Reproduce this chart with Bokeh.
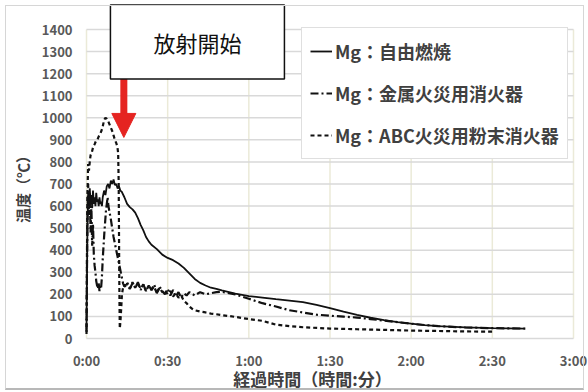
import math
from bokeh.plotting import figure
from bokeh.models import (Range1d, Label, Arrow, NormalHead, Legend, LegendItem, InlineStyleSheet)
from bokeh.core.properties import value
from bokeh.embed import file_html
from bokeh.resources import INLINE

# ---------------- data (time in seconds, temperature in deg C) ----------------
x_ticks = [0, 30, 60, 90, 120, 150, 180]
x_tick_labels = ["0:00", "0:30", "1:00", "1:30", "2:00", "2:30", "3:00"]
y_ticks = [0, 100, 200, 300, 400, 500, 600, 700, 800, 900, 1000, 1100, 1200, 1300, 1400]
y_tick_labels = [str(v) for v in y_ticks]

x_title = "経過時間（時間:分）"
y_title = "温度（℃）"
series_labels = ["Mg：自由燃焼", "Mg：金属火災用消火器", "Mg：ABC火災用粉末消火器"]

free_t = [0, 0.3, 0.6, 0.9, 1.2, 1.5, 1.8, 2.1, 2.4, 2.7,
          3.0, 3.3, 3.6, 3.9, 4.2, 4.5, 4.8, 5.1, 5.4, 5.7,
          6.0, 6.5, 7.0, 7.5, 8.0, 8.5, 9.0, 9.5, 10.0, 10.5,
          11.0, 11.5, 12.0, 12.5, 13.0, 14, 15, 16, 17, 18,
          19, 20, 21, 22, 23, 24, 26, 28, 30, 32,
          34, 36, 38, 40, 42, 44, 46, 48, 50, 55,
          60, 65, 70, 75, 80, 85, 90, 95, 100, 105,
          110, 115, 120, 125, 130, 140, 150, 162]
free_T = [40, 450, 660, 600, 680, 620, 650, 590, 670, 610,
          640, 600, 660, 620, 630, 600, 640, 610, 620, 600,
          640, 670, 650, 690, 700, 680, 715, 700, 720, 695,
          700, 680, 690, 670, 665, 640, 610, 595, 585, 570,
          545, 515, 490, 460, 440, 425, 405, 380, 365, 355,
          340, 320, 295, 270, 252, 240, 230, 225, 218, 203,
          192, 185, 178, 172, 165, 152, 138, 122, 107, 94,
          83, 74, 67, 61, 56, 50, 47, 45]

metal_t = [0, 0.3, 0.6, 0.9, 1.2, 1.5, 1.8, 2.1, 2.4, 2.7,
           3.0, 3.3, 3.6, 3.9, 4.2, 4.5, 4.8, 5.1, 5.4, 5.7,
           6.0, 6.3, 6.6, 6.9, 7.2, 7.5, 7.8, 8.1, 8.4, 8.7,
           9.0, 9.5, 10.0, 10.5, 11.0, 11.5, 12.0, 12.5, 13.0, 13.5,
           14, 15, 16, 17, 18, 19, 20, 21, 22, 23,
           24, 25, 26, 27, 28, 29, 30, 31, 32, 33,
           34, 35, 36, 37, 38, 40, 42, 44, 46, 48,
           50, 55, 60, 65, 70, 75, 80, 85, 90, 95,
           100, 105, 110, 115, 120, 125, 130, 140, 150, 163]
metal_T = [30, 520, 700, 560, 660, 480, 600, 420, 520, 380,
           330, 300, 260, 240, 225, 250, 215, 240, 230, 280,
           360, 420, 480, 530, 580, 610, 640, 600, 580, 560,
           540, 500, 460, 430, 400, 370, 340, 310, 280, 250,
           235, 255, 225, 250, 230, 255, 220, 245, 215, 240,
           220, 245, 205, 235, 215, 200, 225, 195, 220, 190,
           210, 185, 205, 195, 210, 195, 210, 200, 205, 210,
           212, 200, 180, 160, 145, 128, 118, 108, 103, 99,
           95, 88, 81, 74, 67, 61, 56, 50, 47, 45]

abc_t = [0, 0.3, 0.6, 0.9, 1.2, 1.5, 2.0, 2.5, 3.0, 3.5,
         4.0, 4.5, 5.0, 5.5, 6.0, 6.5, 7.0, 7.5, 8.0, 8.5,
         9.0, 9.5, 10.0, 10.5, 11.0, 11.4, 11.7, 11.9, 12.0, 12.1,
         12.2, 12.3, 12.5, 12.8, 13.1, 13.5, 14.0, 14.5, 15, 16,
         17, 18, 19, 20, 21, 22, 23, 24, 25, 26,
         27, 28, 29, 30, 31, 32, 33, 34, 35, 36,
         37, 38, 39, 40, 42, 44, 46, 48, 50, 55,
         60, 65, 70, 75, 80, 90, 100, 110, 120, 130,
         140, 151]
abc_T = [20, 620, 790, 760, 800, 830, 845, 870, 880, 895,
         900, 915, 925, 940, 960, 990, 1000, 995, 985, 970,
         955, 940, 920, 900, 885, 870, 840, 700, 500, 300,
         150, 45, 70, 130, 200, 230, 245, 230, 250, 225,
         255, 230, 250, 225, 245, 215, 240, 220, 235, 205,
         230, 210, 220, 200, 215, 190, 205, 185, 195, 170,
         160, 145, 135, 128, 122, 118, 113, 110, 106, 98,
         88, 80, 63, 56, 51, 45, 42, 39, 36, 34,
         32, 31]

annot_time = 13.8          # start of discharge
annot_text = "放射開始"

# ---------------- figure ----------------
FONT = "Noto Sans CJK JP"
TXT = "#404040"
TICK = "#595959"

# The data frame covers the whole canvas so that the tick labels, titles and the
# boxed note (which sit outside the 0-180 s / 0-1400 °C area) are not clipped.
# 180 s <-> 487 px, 1400 °C <-> 309 px; plot area at x 86..573, y 29..338.
p = figure(width=588, height=392,
           x_range=Range1d(-31.79, 185.55), y_range=Range1d(-244.66, 1531.4),
           output_backend="svg", toolbar_location=None,
           min_border=0, min_border_left=0, min_border_right=0,
           min_border_top=0, min_border_bottom=0)
p.axis.visible = False
p.grid.visible = False
p.outline_line_color = None
p.background_fill_color = "white"
p.border_fill_color = "white"
p.stylesheets = [InlineStyleSheet(css=(
    ":host::after { content: ''; position: absolute; left: 5px; top: 5px; right: 4px; bottom: 2px;"
    " border: 1px solid #d6d6d6; border-bottom: 2px solid #b8b8b8; pointer-events: none; z-index: 50; }"))]

nx, ny = len(x_ticks), len(y_ticks)
# grid
p.segment(x0=x_ticks, x1=x_ticks, y0=[y_ticks[0]] * nx, y1=[y_ticks[-1]] * nx,
          line_color="#ebead8", line_width=1.5)
p.segment(x0=[x_ticks[0]] * ny, x1=[x_ticks[-1]] * ny, y0=y_ticks, y1=y_ticks,
          line_color="#d9d9d9", line_width=1.5)

# tick labels
p.text(x=[-5.17] * ny, y=y_ticks, text=y_tick_labels, text_align="right", text_baseline="middle",
       text_font=value(FONT), text_font_size=value("13px"), text_font_style="bold",
       text_color=TICK)
p.text(x=x_ticks, y=[-100] * nx, text=x_tick_labels, text_align="center", text_baseline="middle",
       text_font=value(FONT), text_font_size=value("13px"), text_font_style="bold",
       text_color=TICK)

# axis titles
p.add_layout(Label(x=83.5, y=-181, text=x_title, text_align="center", text_baseline="middle",
                   text_font=FONT, text_font_size="17px", text_font_style="bold", text_color=TXT))
p.add_layout(Label(x=-23.65, y=693, text=y_title, angle=math.pi / 2, text_align="center",
                   text_baseline="middle", text_font=FONT, text_font_size="15px",
                   text_font_style="bold", text_color=TXT))

# series
r_free = p.line(free_t, free_T, line_color="#111111", line_width=1.8)
r_metal = p.line(metal_t, metal_T, line_color="#111111", line_width=2.2, line_dash="8 3 2 3")
r_abc = p.line(abc_t, abc_T, line_color="#111111", line_width=2.2, line_dash="4 3")

legend = Legend(items=[LegendItem(label=series_labels[0], renderers=[r_free]),
                       LegendItem(label=series_labels[1], renderers=[r_metal]),
                       LegendItem(label=series_labels[2], renderers=[r_abc])],
                location=(301, 233), margin=0, padding=8, spacing=12,
                label_height=30, glyph_height=30, glyph_width=22, label_standoff=3,
                border_line_color="#bfbfbf", border_line_width=1.2,
                background_fill_color="white", background_fill_alpha=1,
                label_text_font=FONT, label_text_font_size="18px",
                label_text_font_style="bold", label_text_color=TXT)
p.add_layout(legend)

# red arrow marking start of discharge
RED = "#e52421"
p.add_layout(Arrow(x_start=annot_time, y_start=1187, x_end=annot_time, y_end=1005,
                   end=None, line_color=RED, line_width=7))
p.add_layout(Arrow(x_start=annot_time, y_start=1012, x_end=annot_time, y_end=911,
                   end=NormalHead(size=24, fill_color=RED, line_color=RED, line_width=1),
                   line_alpha=0))

# boxed note
p.add_layout(Label(x=41, y=1343.4, text=annot_text, text_align="center", text_baseline="middle",
                   text_font=FONT, text_font_size="22px", text_color="#111111",
                   background_fill_color="white", border_line_color="#111111",
                   border_line_width=1.5, padding=(43, 21)))

open("out.html", "w").write(file_html(p, INLINE))
